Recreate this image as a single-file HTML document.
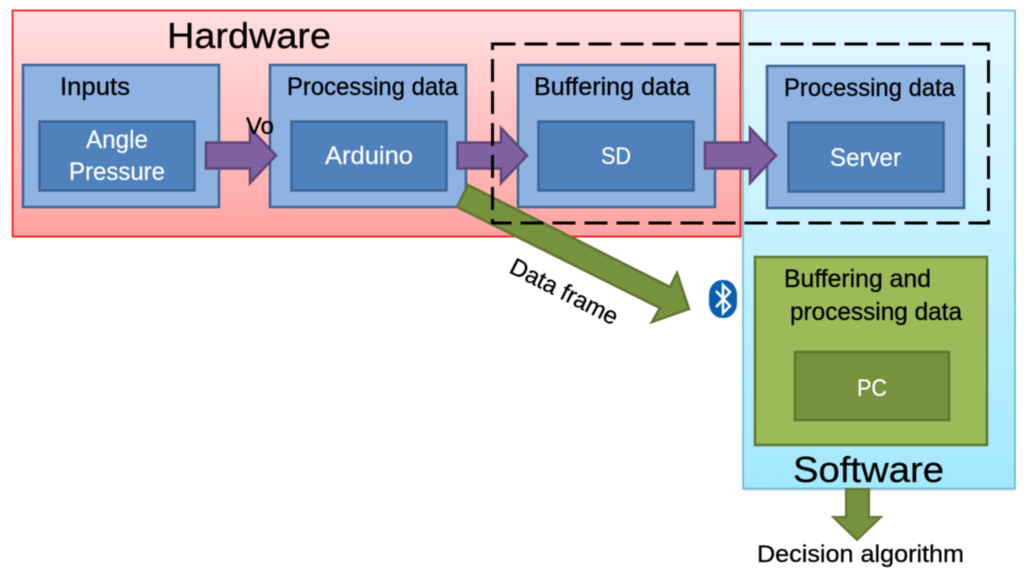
<!DOCTYPE html>
<html>
<head>
<meta charset="utf-8">
<title>Hardware and software diagram</title>
<style>
html,body{margin:0;padding:0;background:#fff;width:1024px;height:575px;overflow:hidden}
svg{display:block;filter:blur(0.45px)}
text{font-family:"Liberation Sans",sans-serif;fill:#000;stroke:#000;stroke-width:.3px}
text.w{fill:#fff;stroke:#fff;stroke-width:.2px}
</style>
</head>
<body>
<svg width="1024" height="575" viewBox="0 0 1024 575" xmlns="http://www.w3.org/2000/svg">
<defs>
<linearGradient id="r" x1="0" y1="0" x2="0" y2="1"><stop offset="0" stop-color="#ffe0e0"/><stop offset="1" stop-color="#ffa3a3"/></linearGradient>
<linearGradient id="c" x1="0" y1="0" x2="0" y2="1"><stop offset="0" stop-color="#e3f8ff"/><stop offset="1" stop-color="#a3e9ff"/></linearGradient>
</defs>

<rect x="13" y="12" width="729" height="226" fill="#bbb" opacity=".45"/>
<rect x="744" y="12" width="272" height="479" fill="#bbb" opacity=".45"/>
<rect x="12.500" y="10.500" width="728" height="226" fill="url(#r)" stroke="#ff0000" stroke-width="1.500"/>
<rect x="743" y="10.500" width="272" height="478" fill="url(#c)" stroke="#5bb7d0" stroke-width="1.500"/>

<g fill="#8eb2e2" stroke="#3c6595" stroke-width="2.500">
<rect x="23" y="65" width="196" height="142"/>
<rect x="270" y="65" width="196" height="142"/>
<rect x="518" y="65" width="197" height="142"/>
<rect x="767" y="66" width="197" height="142"/>
</g>
<g fill="#4f81bd" stroke="#3c6595" stroke-width="2.500">
<rect x="39.500" y="121.500" width="155" height="69"/>
<rect x="291.500" y="121.500" width="155" height="69"/>
<rect x="538.500" y="121.500" width="155" height="69"/>
<rect x="788.500" y="122.500" width="155" height="69"/>
</g>

<rect x="755" y="257" width="232" height="188" fill="#9bbb59" stroke="#5f7530" stroke-width="2.500"/>
<rect x="795" y="352" width="154" height="68" fill="#76923c" stroke="#5f7530" stroke-width="2.500"/>

<g fill="#8061a2" stroke="#5d4579" stroke-width="2.500">
<polygon points="206,142.500 250,142.500 250,128 276,155.500 250,183 250,168.500 206,168.500"/>
<polygon points="457.500,142.500 501,142.500 501,128 527,155.500 501,183 501,168.500 457.500,168.500"/>
<polygon points="705,142.500 750,142.500 750,128 776,155.500 750,183 750,168.500 705,168.500"/>
</g>

<polygon points="468,185 670,287 677,273 689,309 652,322 660,308 457,207" fill="#76923c" stroke="#5f7530" stroke-width="2.500"/>
<polygon points="846,489 869,489 869,517 881,517 857,540 833,517 846,517" fill="#76923c" stroke="#5f7530" stroke-width="2"/>

<rect x="492.500" y="44" width="496" height="179" fill="none" stroke="#000" stroke-width="3" stroke-dasharray="23 9"/>

<rect x="709" y="280" width="28" height="38" rx="13" ry="15" fill="#0a5fad"/>
<polyline points="716,291 730,306 723,313 723,285 730,292 716,307" fill="none" stroke="#fff" stroke-width="2.500"/>

<text x="167" y="48" font-size="36" textLength="164" lengthAdjust="spacingAndGlyphs">Hardware</text>
<text x="60" y="95" font-size="25" textLength="70" lengthAdjust="spacingAndGlyphs">Inputs</text>
<text x="287" y="95" font-size="25" textLength="171" lengthAdjust="spacingAndGlyphs">Processing data</text>
<text x="534" y="95" font-size="25" textLength="156" lengthAdjust="spacingAndGlyphs">Buffering data</text>
<text x="784" y="96" font-size="25" textLength="171" lengthAdjust="spacingAndGlyphs">Processing data</text>
<text x="246" y="134" font-size="24" textLength="28" lengthAdjust="spacingAndGlyphs">Vo</text>

<text class="w" x="86" y="148" font-size="25" textLength="62" lengthAdjust="spacingAndGlyphs">Angle</text>
<text class="w" x="69" y="180" font-size="25" textLength="96" lengthAdjust="spacingAndGlyphs">Pressure</text>
<text class="w" x="325" y="164" font-size="25" textLength="88" lengthAdjust="spacingAndGlyphs">Arduino</text>
<text class="w" x="601" y="164" font-size="24" textLength="30" lengthAdjust="spacingAndGlyphs">SD</text>
<text class="w" x="830" y="166" font-size="25" textLength="71" lengthAdjust="spacingAndGlyphs">Server</text>

<text x="784" y="287" font-size="25" textLength="147" lengthAdjust="spacingAndGlyphs">Buffering and</text>
<text x="790" y="320" font-size="25" textLength="172" lengthAdjust="spacingAndGlyphs">processing data</text>
<text class="w" x="857" y="396" font-size="24" textLength="30" lengthAdjust="spacingAndGlyphs">PC</text>
<text x="793" y="482" font-size="36" textLength="151" lengthAdjust="spacingAndGlyphs">Software</text>
<text x="757" y="562" font-size="24" textLength="207" lengthAdjust="spacingAndGlyphs">Decision algorithm</text>
<text transform="translate(508,272) rotate(27)" font-size="24" textLength="118" lengthAdjust="spacingAndGlyphs">Data frame</text>
</svg>
</body>
</html>
